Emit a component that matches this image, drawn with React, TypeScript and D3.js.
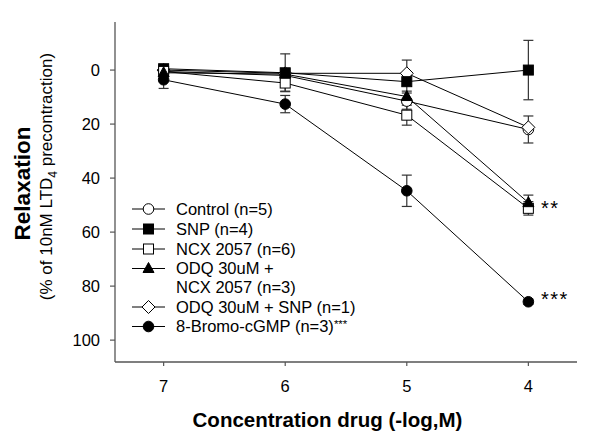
import React from "react";
import * as d3 from "d3";

const concentrations = [7, 6, 5, 4];
const seriesNames = [
  "Control (n=5)",
  "SNP (n=4)",
  "NCX 2057 (n=6)",
  "ODQ 30uM + NCX 2057 (n=3)",
  "ODQ 30uM + SNP (n=1)",
  "8-Bromo-cGMP (n=3)***",
];
const controlVals = [0.5, 2, 11.5, 22];
const controlErr = [1, 2, 3, 5];
const snpVals = [-0.5, 1, 4.3, 0];
const snpErr = [1, 7, 8, 11];
const ncxVals = [0.5, 4.8, 16.7, 51.2];
const ncxErr = [1.5, 3, 3.7, 2.5];
const odqNcxVals = [1, 1.5, 9.8, 49.1];
const odqNcxErr = [1, 2, 2, 2.8];
const odqSnpVals = [0, 1.2, 1.2, 21.2];
const odqSnpErr = [0, 0, 0, 0];
const bromoVals = [3.6, 12.6, 44.7, 85.8];
const bromoErr = [3.2, 3.2, 5.8, 1];

const yTicks = [0, 20, 40, 60, 80, 100];
const xTicks = [7, 6, 5, 4];

type Sym = "circleOpen" | "squareFilled" | "squareOpen" | "triangleFilled" | "diamondOpen" | "circleFilled";
const symbols: Sym[] = ["circleOpen", "squareFilled", "squareOpen", "triangleFilled", "diamondOpen", "circleFilled"];
const allVals = [controlVals, snpVals, ncxVals, odqNcxVals, odqSnpVals, bromoVals];
const allErr = [controlErr, snpErr, ncxErr, odqNcxErr, odqSnpErr, bromoErr];
// drawing order of markers (diamonds beneath filled square at low concentrations)
const drawOrder = [4, 0, 1, 2, 3, 5];

const FONT = "Arial, 'Liberation Sans', sans-serif";

function Marker({ sym, x, y }: { sym: Sym; x: number; y: number }) {
  const filled = sym.includes("Filled");
  const fill = filled ? "#000" : "#fff";
  const stroke = "#000";
  if (sym.startsWith("circle")) return <circle cx={x} cy={y} r={5.3} fill={fill} stroke={stroke} strokeWidth={1} />;
  if (sym.startsWith("square")) return <rect x={x - 5} y={y - 5} width={10} height={10} fill={fill} stroke={stroke} strokeWidth={1} />;
  if (sym.startsWith("triangle")) return <path d={`M${x},${y - 6}L${x + 5.5},${y + 4}L${x - 5.5},${y + 4}Z`} fill={fill} stroke={stroke} strokeWidth={1} />;
  return <path d={`M${x},${y - 6.5}L${x + 6.5},${y}L${x},${y + 6.5}L${x - 6.5},${y}Z`} fill={fill} stroke={stroke} strokeWidth={1} />;
}

export default function App() {
  const W = 600, H = 437;
  const x = d3.scaleLinear().domain([7.4, 3.6]).range([115, 577]);
  const y = d3.scaleLinear().domain([-17.8, 108.1]).range([22, 362]);
  const line = d3.line<number>().x((_, i) => x(concentrations[i])).y((v) => y(v));

  const legendRows = [
    { sym: symbols[0], lines: ["Control (n=5)"], y: 209 },
    { sym: symbols[1], lines: ["SNP (n=4)"], y: 229 },
    { sym: symbols[2], lines: ["NCX 2057 (n=6)"], y: 249 },
    { sym: symbols[3], lines: ["ODQ 30uM +", "NCX 2057 (n=3)"], y: 268.5 },
    { sym: symbols[4], lines: ["ODQ 30uM + SNP (n=1)"], y: 307 },
    { sym: symbols[5], lines: ["8-Bromo-cGMP (n=3)"], y: 326.5, stars: true },
  ];

  return (
    <svg width={W} height={H} style={{ position: "absolute", left: 0, top: 0, background: "#fff" }} fontFamily={FONT}>
      <rect width={W} height={H} fill="#fff" />
      {/* axes */}
      <line x1={115} x2={115} y1={22} y2={362} stroke="#555" strokeWidth={1.3} />
      <line x1={115} x2={577} y1={362} y2={362} stroke="#555" strokeWidth={1.3} />
      {yTicks.map((t) => (
        <g key={t}>
          <line x1={110} x2={115} y1={y(t)} y2={y(t)} stroke="#555" strokeWidth={1.2} />
          <text x={100} y={y(t)} dy="0.36em" textAnchor="end" fontSize={16.5} fill="#000">{t}</text>
        </g>
      ))}
      {xTicks.map((t) => (
        <g key={t}>
          <line x1={x(t)} x2={x(t)} y1={362} y2={366} stroke="#555" strokeWidth={1.2} />
          <text x={x(t)} y={392} textAnchor="middle" fontSize={16.5} fill="#000">{t}</text>
        </g>
      ))}
      <text x={327.5} y={427} textAnchor="middle" fontSize={20.5} fontWeight="bold">Concentration drug (-log,M)</text>
      <text transform="translate(30,183.5) rotate(-90)" textAnchor="middle" fontSize={22.5} fontWeight="bold">Relaxation</text>
      <text transform="translate(51.5,176.5) rotate(-90)" textAnchor="middle" fontSize={17}>
        (% of 10nM LTD<tspan fontSize={12} dy={5}>4</tspan><tspan dy={-5}> precontraction)</tspan>
      </text>

      {/* lines */}
      {allVals.map((vals, i) => (
        <path key={"l" + i} d={line(vals) || ""} fill="none" stroke="#000" strokeWidth={1} />
      ))}
      {/* error bars */}
      {allVals.map((vals, i) =>
        vals.map((v, j) => {
          const e = allErr[i][j];
          if (!e) return null;
          const cx = x(concentrations[j]);
          return (
            <g key={`e${i}-${j}`} stroke="#333" strokeWidth={1.2}>
              <line x1={cx} x2={cx} y1={y(v - e)} y2={y(v + e)} />
              <line x1={cx - 5} x2={cx + 5} y1={y(v - e)} y2={y(v - e)} />
              <line x1={cx - 5} x2={cx + 5} y1={y(v + e)} y2={y(v + e)} />
            </g>
          );
        })
      )}
      {/* markers */}
      {allVals.map((vals, j) =>
        concentrations.map((c, k) => {
          // draw diamond on top only at highest concentration
          return null;
        })
      )}
      {concentrations.map((c, k) =>
        (k === 3 ? [0, 1, 2, 3, 4, 5] : drawOrder).map((i) => (
          <Marker key={`m${i}-${k}`} sym={symbols[i]} x={x(c)} y={y(allVals[i][k])} />
        ))
      )}

      {/* significance */}
      <text x={541} y={215} fontSize={20} letterSpacing={1.5}>**</text>
      <text x={541} y={306} fontSize={20} letterSpacing={1.5}>***</text>

      {/* legend */}
      {legendRows.map((r, i) => (
        <g key={"lg" + i}>
          <line x1={132} x2={165} y1={r.y} y2={r.y} stroke="#000" strokeWidth={1} />
          <Marker sym={r.sym} x={148.5} y={r.y} />
          {r.lines.map((t, k) => (
            <text key={k} x={176} y={r.y + k * 19} dy="0.36em" fontSize={16.5}>
              {t}
              {r.stars ? <tspan fontSize={11.5} dy={-4}>***</tspan> : null}
            </text>
          ))}
        </g>
      ))}
    </svg>
  );
}
